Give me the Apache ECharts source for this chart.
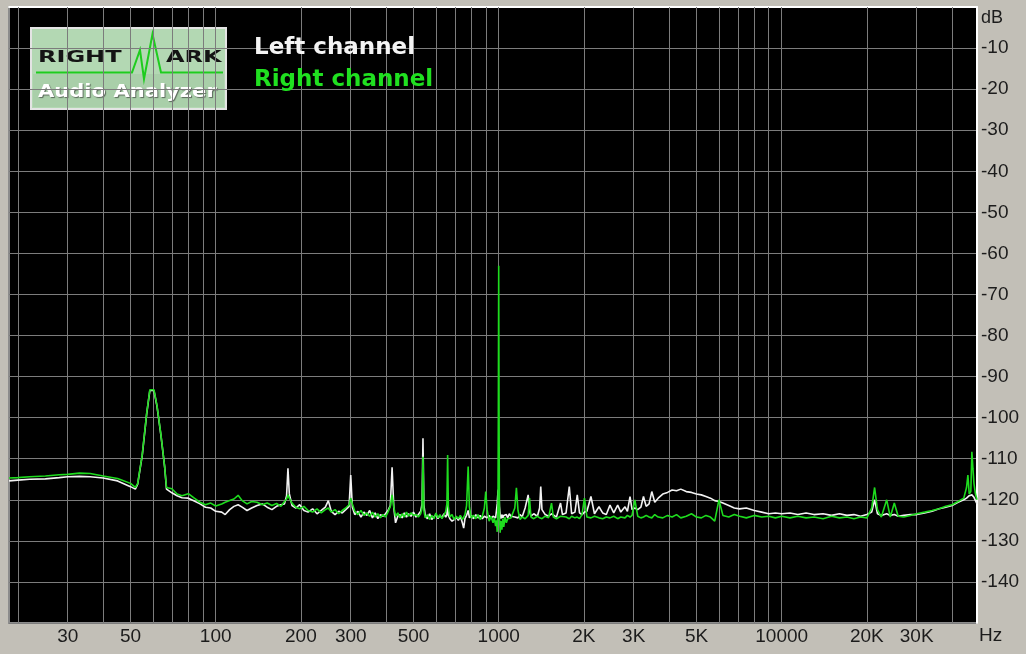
<!DOCTYPE html>
<html>
<head>
<meta charset="utf-8">
<style>
html,body{margin:0;padding:0;background:#c2bfb7;}
#chart{width:1026px;height:654px;}
</style>
<script src="https://cdn.jsdelivr.net/npm/echarts@6/dist/echarts.min.js"></script>
</head>
<body>
<div id="chart"></div>
<script>
// ---- DATA ----
const seriesNames = ['Left channel', 'Right channel'];
const xUnit = 'Hz';
const yUnit = 'dB';

const freqs = [
  18.6, 20, 22, 25, 28, 30, 33, 36, 40, 45, 50, 52, 53, 55, 57, 58.5, 60.5, 62, 64, 66, 67, 70, 73, 76, 80, 84, 88, 92, 96,
  100, 105, 108, 112, 116, 120, 124, 129, 134, 140, 146, 152, 158, 164, 170, 175, 178, 180, 182, 186, 192, 198,
  205, 212, 220, 228, 236, 244, 250, 256, 264, 272, 280, 288, 296, 300, 304, 310, 318, 326, 334, 342, 350, 358,
  366, 374, 382, 390, 398, 406, 414, 420, 426, 432, 440, 448, 456, 464, 472, 480, 490, 500, 510, 520, 530, 536,
  540, 544, 550, 560, 570, 580, 590, 600, 610, 620, 630, 640, 650, 656, 660, 664, 672, 684, 696, 708, 720, 732,
  744, 752, 760, 770, 780, 788, 800, 815, 830, 845, 860, 875, 890, 900, 910, 925, 940, 955, 965, 975, 982, 988,
  994, 997, 1000, 1003, 1006, 1012, 1018, 1026, 1034, 1042, 1052, 1064, 1076, 1090, 1105, 1120, 1140, 1155, 1170,
  1190, 1210, 1240, 1271, 1285, 1300, 1330, 1370, 1395, 1408, 1422, 1460, 1500, 1537, 1560, 1600, 1654, 1680,
  1730, 1776, 1810, 1860, 1895, 1930, 1970, 2009, 2050, 2118, 2180, 2261, 2330, 2400, 2473, 2550, 2633, 2700,
  2795, 2850, 2911, 2960, 3028, 3100, 3180, 3248, 3320, 3400, 3475, 3560, 3660, 3800, 3950, 4100, 4250, 4400,
  4600, 4800, 5000, 5200, 5400, 5600, 5800, 6000, 6200, 6500, 6800, 7100, 7500, 8000, 8500, 9000, 9500, 10000,
  10700, 11400, 12200, 13000, 14000, 15000, 16000, 17000, 18000, 19000, 20000, 20800, 21300, 21800, 22500,
  23500, 24200, 25000, 25800, 27000, 28500, 30000, 32000, 34000, 36000, 38000, 40000, 42000, 44000, 45000,
  45500, 46000, 46600, 47000, 47400, 47800, 48400, 49000
];

const leftDb = [
  -115.4, -115.2, -115.0, -114.9, -114.6, -114.4, -114.3, -114.4, -114.7, -115.4, -116.8, -117.4, -116.2, -109.2, -99.2, -93.4, -93.4, -97.2, -104.2, -112.0, -117.4, -118.3, -119.0, -119.5, -119.6, -120.3, -121.0, -121.8, -122.0,
  -122.8, -123.0, -123.6, -122.4, -121.6, -121.2, -121.8, -122.6, -122.0, -121.4, -121.0, -121.8, -122.4, -121.6, -121.2, -121.0, -119.0, -112.3, -118.5, -121.4, -122.0, -121.2,
  -122.6, -123.0, -122.2, -123.4, -122.6, -121.8, -120.2, -122.8, -123.6, -122.8, -123.2, -122.4, -121.6, -114.0, -121.8, -123.6, -122.8, -124.2, -123.0, -123.8, -122.6, -124.4,
  -123.2, -124.6, -123.6, -124.0, -123.4, -122.6, -121.4, -112.1, -122.0, -125.6, -124.0, -123.6, -124.4, -123.2, -124.2, -123.4, -124.0, -123.0, -124.2, -123.6, -122.8, -121.0,
  -105.0, -121.2, -123.8, -124.6, -123.4, -124.8, -124.2, -123.6, -124.6, -123.8, -124.4, -123.4, -124.2, -123.6, -121.0, -123.8, -124.6, -125.2, -124.8, -124.2, -125.0, -124.0,
  -125.6, -126.9, -124.6, -123.8, -122.6, -124.4, -123.8, -124.6, -123.6, -124.4, -123.8, -124.6, -124.0, -123.6, -124.4, -123.8, -124.6, -124.0, -123.6, -124.4, -122.6, -121.0,
  -118.0, -117.5, -118.0, -119.0, -121.6, -123.8, -124.6, -123.6, -124.4, -123.8, -124.2, -123.6, -124.4, -123.4, -124.0, -123.6, -124.2, -123.8, -124.4,
  -123.6, -124.2, -122.0, -118.8, -122.6, -124.0, -123.4, -124.0, -122.0, -116.8, -122.4, -123.6, -124.0, -123.4, -123.8, -124.2, -120.8, -123.6,
  -123.2, -116.8, -123.4, -123.0, -118.8, -123.2, -123.6, -123.0, -122.8, -119.2, -123.4, -121.7, -123.2, -123.6, -121.3, -123.2, -121.3, -123.0,
  -121.7, -122.8, -119.2, -122.4, -122.0, -122.4, -121.8, -119.2, -121.6, -121.0, -118.0, -120.6, -119.6, -118.6, -118.2, -117.6, -117.8, -117.4,
  -118.0, -118.2, -118.6, -118.8, -119.2, -119.6, -120.2, -120.4, -120.8, -121.4, -122.0, -122.2, -122.0, -122.6, -123.0, -123.4, -123.2, -123.4,
  -123.2, -123.6, -123.2, -123.6, -123.4, -123.8, -123.4, -123.8, -123.6, -124.0, -123.6, -123.0, -120.0, -123.4, -123.8,
  -123.4, -123.8, -123.6, -124.0, -123.8, -123.6, -123.6, -123.2, -122.8, -122.2, -121.8, -121.4, -120.6, -120.0, -119.6,
  -119.4, -119.0, -118.6, -118.8, -119.0, -119.4, -120.2, -121.0
];

const rightDb = [
  -114.7, -114.6, -114.4, -114.2, -113.9, -113.8, -113.5, -113.6, -114.2, -114.8, -116.0, -117.0, -116.0, -109.0, -99.0, -93.2, -93.2, -97.0, -104.0, -112.0, -117.0, -117.3, -118.6, -119.0, -118.5, -119.6, -120.6, -121.2, -120.8,
  -121.5, -121.0, -120.6, -120.2, -119.8, -118.9, -120.2, -121.0, -120.4, -120.6, -121.2, -120.8, -121.4, -120.9, -121.6, -120.4, -119.8, -118.8, -119.6, -120.8, -121.8, -122.2,
  -121.6, -122.6, -123.0, -122.2, -123.2, -122.4, -122.0, -123.0, -122.4, -123.4, -122.6, -122.0, -121.2, -119.6, -121.0, -122.8, -123.6, -122.6, -123.8, -123.2, -124.0, -123.0,
  -124.2, -123.4, -124.4, -123.6, -124.2, -123.0, -121.6, -118.8, -121.8, -124.0, -123.2, -124.4, -123.4, -124.2, -123.0, -124.0, -123.2, -123.8, -123.6, -124.2, -123.4, -122.0,
  -109.5, -122.6, -124.4, -123.6, -124.8, -123.8, -124.6, -123.2, -124.4, -123.6, -124.6, -123.8, -122.8, -121.0, -109.1, -121.8, -124.2, -123.6, -124.8, -124.0, -124.6, -123.8,
  -124.8, -124.2, -123.6, -121.4, -111.9, -121.8, -124.4, -123.8, -124.6, -123.6, -124.8, -124.0, -122.0, -118.0, -122.4, -125.2, -124.0, -125.6, -124.4, -126.4, -125.0, -127.8,
  -122.0, -100.0, -63.0, -100.0, -124.0, -128.0, -125.2, -127.3, -124.6, -126.6, -124.2, -125.6, -124.6, -125.0, -124.4, -124.8, -122.0, -117.1, -122.6,
  -124.8, -124.2, -124.6, -123.8, -119.6, -124.2, -124.6, -124.0, -124.4, -124.2, -124.6, -124.0, -124.4, -120.8, -124.2, -124.6, -124.0, -124.4,
  -124.2, -124.6, -124.0, -124.4, -124.2, -124.6, -123.6, -119.6, -124.2, -124.4, -124.0, -124.4, -124.6, -124.2, -124.4, -124.0, -124.6, -124.2,
  -124.4, -123.8, -124.2, -123.8, -120.0, -124.0, -124.4, -124.2, -123.8, -124.2, -124.4, -123.6, -124.2, -124.4, -123.8, -124.2, -123.6, -124.4,
  -124.0, -123.4, -124.2, -124.4, -123.8, -124.2, -125.2, -120.0, -123.8, -124.2, -123.6, -124.0, -124.4, -123.8, -124.2, -124.0, -124.4, -124.0,
  -124.4, -124.0, -124.4, -124.2, -124.6, -124.0, -124.4, -124.2, -124.6, -124.2, -124.4, -122.0, -117.0, -122.4, -124.2,
  -120.0, -124.2, -120.8, -124.0, -124.2, -123.8, -123.4, -123.0, -122.6, -122.2, -121.6, -121.2, -120.4, -119.6, -117.0,
  -114.0, -118.6, -118.0, -108.3, -112.3, -116.0, -118.6, -120.0
];

const gridFreqs = [20, 30, 40, 50, 60, 70, 80, 90, 100, 200, 300, 400, 500, 600, 700, 800, 900,
  1000, 2000, 3000, 4000, 5000, 6000, 7000, 8000, 9000, 10000, 20000, 30000, 40000];
const xTickValues = [30, 50, 100, 200, 300, 500, 1000, 2000, 3000, 5000, 10000, 20000, 30000];
const xTickLabels = ['30', '50', '100', '200', '300', '500', '1000', '2K', '3K', '5K', '10000', '20K', '30K'];
const yTickMin = -150, yTickMax = 0, yTickStep = 10;

// ---- CHART ----
const chart = echarts.init(document.getElementById('chart'), null, {renderer: 'canvas'});
const labelFont = 'Liberation Sans, Arial, sans-serif';

function xLabel(v) {
  for (let i = 0; i < xTickValues.length; i++) {
    if (Math.abs(v - xTickValues[i]) / xTickValues[i] < 1e-4) return xTickLabels[i];
  }
  return '';
}

const option = {
  animation: false,
  backgroundColor: '#c2bfb7',
  grid: {
    left: 9, top: 7, right: 49, bottom: 31,
    show: true, backgroundColor: '#000000', borderColor: '#8c8c8c', borderWidth: 2
  },
  legend: {
    orient: 'vertical', left: 244, top: 32, itemWidth: 0, itemHeight: 0, itemGap: 9,
    selectedMode: false,
    textStyle: {fontFamily: 'DejaVu Sans', fontWeight: 'bold', fontSize: 23},
    data: [
      {name: seriesNames[0], icon: 'rect', textStyle: {color: '#f4f4f4'}},
      {name: seriesNames[1], icon: 'rect', textStyle: {color: '#20e020'}}
    ]
  },
  xAxis: {
    type: 'log', min: 18.6, max: 49000,
    axisLine: {show: true, lineStyle: {color: '#ffffff', width: 2}},
    axisTick: {show: false},
    splitLine: {show: false},
    minorSplitLine: {show: false},
    axisLabel: {
      show: true, customValues: xTickValues, formatter: xLabel,
      color: '#1c1c1c', fontSize: 19, fontFamily: labelFont, margin: 4
    }
  },
  yAxis: {
    type: 'value', position: 'right', min: yTickMin, max: yTickMax, interval: yTickStep,
    axisLine: {show: true, lineStyle: {color: '#ffffff', width: 2}},
    axisTick: {show: false},
    splitLine: {show: true, lineStyle: {color: '#7c7c7c', width: 1}},
    axisLabel: {
      color: '#1c1c1c', fontSize: 19, fontFamily: labelFont, margin: 4,
      padding: [0, 0, 6, 0],
      formatter: v => (v === yTickMin || v === yTickMax) ? '' : String(v)
    }
  },
  series: [
    {
      name: seriesNames[0], type: 'line', showSymbol: false, symbol: 'none',
      data: freqs.map((f, i) => [f, leftDb[i]]),
      lineStyle: {color: '#f2f2f2', width: 1.6}, itemStyle: {color: '#f2f2f2'},
      z: 3,
      markLine: {
        silent: true, symbol: 'none', animation: false, z: 1,
        label: {show: false},
        lineStyle: {color: '#7c7c7c', width: 1, type: 'solid'},
        data: gridFreqs.map(f => ({xAxis: f}))
      }
    },
    {
      name: seriesNames[1], type: 'line', showSymbol: false, symbol: 'none',
      data: freqs.map((f, i) => [f, rightDb[i]]),
      lineStyle: {color: '#1edc1e', width: 1.6}, itemStyle: {color: '#1edc1e'},
      z: 4
    }
  ],
  graphic: [
    {type: 'text', left: 981, top: 9, style: {text: yUnit, fill: '#1c1c1c', font: '18px Liberation Sans'}},
    {type: 'text', left: 979, top: 626, style: {text: xUnit, fill: '#1c1c1c', font: '19px Liberation Sans'}},
    {
      type: 'group', left: 30, top: 27, z: 100,
      children: [
        {type: 'rect', shape: {x: 0, y: 0, width: 195, height: 81}, style: {fill: '#b3d8b3', stroke: '#e4e4e4', lineWidth: 2}},
        {type: 'rect', shape: {x: 2, y: 46, width: 191, height: 33}, style: {fill: '#a9cfa9'}},
        {type: 'polyline', shape: {points: [[5, 44.5], [101, 44.5], [109, 22], [113, 51], [121.5, 6], [130, 44.5], [192, 44.5]]},
          style: {stroke: '#1ecc1e', lineWidth: 2, fill: null}},
        {type: 'text', x: 7, y: 30, scaleX: 1.5, style: {text: 'RIGHT', fill: '#141414', font: 'bold 16px DejaVu Sans', verticalAlign: 'middle'}},
        {type: 'text', x: 135, y: 30, scaleX: 1.5, style: {text: 'ARK', fill: '#141414', font: 'bold 16px DejaVu Sans', verticalAlign: 'middle'}},
        {type: 'text', x: 7, y: 64, scaleX: 1.17, style: {text: 'Audio Analyzer', fill: '#ffffff', font: 'bold 18px DejaVu Sans', verticalAlign: 'middle',
          textShadowColor: '#5a6a5a', textShadowOffsetX: 1, textShadowOffsetY: 1, textShadowBlur: 1}}
      ]
    }
  ]
};
chart.setOption(option);
</script>
</body>
</html>
